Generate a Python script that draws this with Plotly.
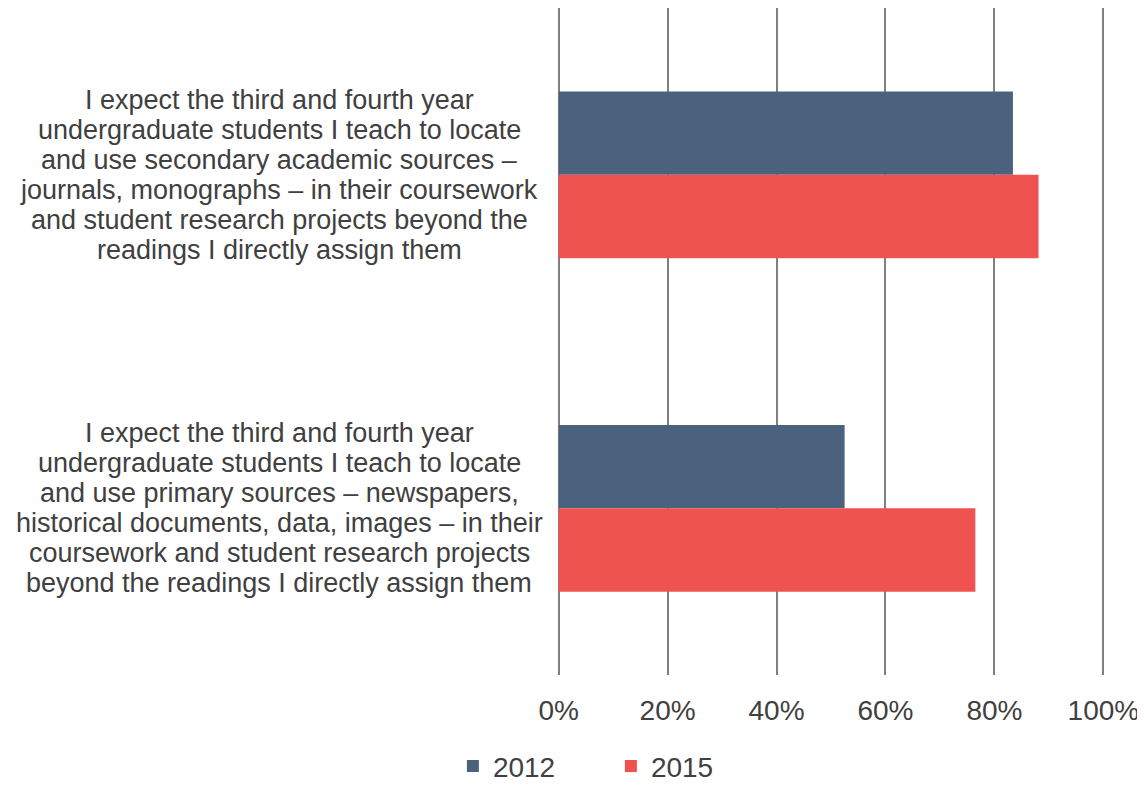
import plotly.graph_objects as go

categories = [
    "I expect the third and fourth year<br>undergraduate students I teach to locate<br>and use secondary academic sources –<br>journals, monographs – in their coursework<br>and student research projects beyond the<br>readings I directly assign them",
    "I expect the third and fourth year<br>undergraduate students I teach to locate<br>and use primary sources – newspapers,<br>historical documents, data, images – in their<br>coursework and student research projects<br>beyond the readings I directly assign them",
]
values_2012 = [0.834, 0.525]
values_2015 = [0.881, 0.765]
series_names = ["2012", "2015"]
x_ticks = [0, 0.2, 0.4, 0.6, 0.8, 1.0]
x_tick_labels = ["0%", "20%", "40%", "60%", "80%", "100%"]

FONT = "Liberation Sans, Arial, sans-serif"
TXT = "#404040"
LINE_GAP = 30

fig = go.Figure()
fig.add_trace(go.Bar(y=categories, x=values_2012, name=series_names[0], orientation="h",
                     marker=dict(color="#4B627F", line=dict(width=0))))
fig.add_trace(go.Bar(y=categories, x=values_2015, name=series_names[1], orientation="h",
                     marker=dict(color="#EE5350", line=dict(width=0))))

for c in categories:
    lines = c.split("<br>")
    n = len(lines)
    for i, ln in enumerate(lines):
        fig.add_annotation(text=ln, xref="paper", yref="y", x=-0.507, y=c, xanchor="center",
                           yanchor="middle", align="center", showarrow=False,
                           yshift=((n - 1) / 2 - i) * LINE_GAP,
                           font=dict(family=FONT, size=27, color=TXT))

fig.update_layout(
    width=1137, height=778,
    margin=dict(l=549, r=40, t=0, b=111, autoexpand=False),
    paper_bgcolor="white", plot_bgcolor="white",
    barmode="group", bargap=0.5, bargroupgap=0,
    font=dict(family=FONT, size=28, color=TXT),
    xaxis=dict(range=[-0.003, 1.003], tickvals=x_ticks, ticktext=x_tick_labels,
               showgrid=True, gridcolor="#7F7F7F", gridwidth=2, zeroline=False,
               showline=False, ticks="", tickfont=dict(size=28, color=TXT),
               ticklabelstandoff=16, automargin=False),
    yaxis=dict(autorange="reversed", showticklabels=False, showgrid=False, zeroline=False,
               showline=False, ticks="", automargin=False),
    legend=dict(orientation="h", x=-0.19, xanchor="left", y=-0.137, yanchor="middle",
                font=dict(size=28, color=TXT), traceorder="normal", itemwidth=30,
                entrywidth=113, entrywidthmode="pixels"),
    showlegend=True,
)
fig.write_html("out.html")
